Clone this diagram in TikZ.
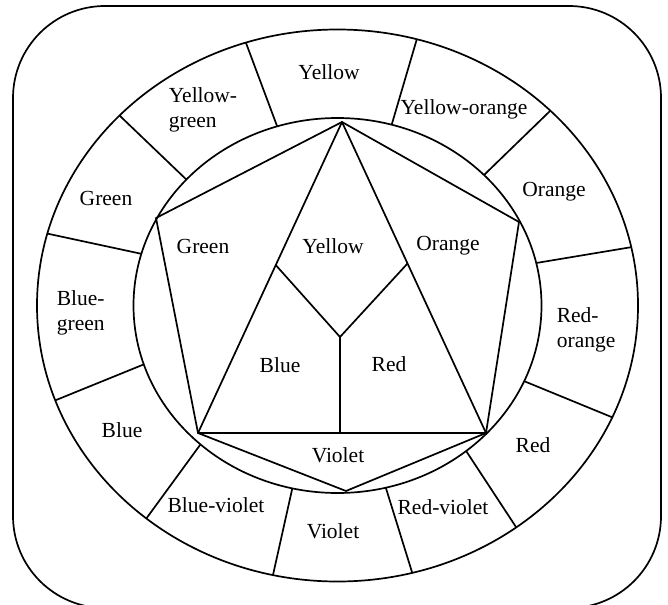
\documentclass[tikz,border=0pt]{standalone}
\usepackage{fontspec}
\setmainfont{Liberation Serif}
\usetikzlibrary{calc}
\begin{document}
\begin{tikzpicture}[x=1pt,y=-1pt,line width=1.7pt,line join=round,
  lbl/.style={font=\fontsize{21.5}{25}\selectfont,inner sep=0pt},
  lbll/.style={lbl,align=left,anchor=west}]
\useasboundingbox (0,0) rectangle (668,604);
\begin{scope}
\clip (0,0) rectangle (668,604);
\draw[rounded corners=92pt] (13,6) rectangle (661,608);
\end{scope}
\coordinate (c) at (337.5,305.5);
\draw (c) ellipse [x radius=300.5, y radius=276];
\draw (c) ellipse [x radius=204, y radius=187.5];
% ring dividers
\foreach \n/\a/\b in {1/-107.2/-107.75, 2/-74.6/-74.7, 3/-44.1/-44.9, 4/-13.1/-12.2,
  5/23.8/23.9, 6/50.9/53.5, 7/76.3/75.6, 8/102.8/102.4, 9/132.2/129.5,
  10/161.7/159.9, 11/196.0/195.1, 12/222.2/223.5}{
  \coordinate (i\n) at ($(c)+(\a:204 and 187.5)$);
  \coordinate (o\n) at ($(c)+(\b:300.5 and 276)$);
  \draw (i\n) -- (o\n);
}
% inner polygon
\coordinate (T) at (342,122);
\coordinate (UL) at (156,218);
\coordinate (UR) at (519,222);
\coordinate (BL) at (198,433);
\coordinate (BR) at (486,433);
\coordinate (B) at (346,491);
\coordinate (M) at (340,337);
\coordinate (L) at ($(T)!0.46!(BL)$);
\coordinate (R) at ($(T)!0.455!(BR)$);
\coordinate (D) at (340,433);
\draw (T) -- (UL) -- (BL) -- (B) -- (BR) -- (UR) -- cycle;
\draw (T) -- (BL) -- (BR) -- cycle;
\draw (L) -- (M) -- (R);
\draw (M) -- (D);
% outer labels
\node[lbl] (oy) at (329,72) {Yellow};
\node[lbll] (oyg) at (168,110) {Yellow-\\green};
\node[lbl] (og) at (106,198) {Green};
\node[lbll] (obg) at (56,313) {Blue-\\green};
\node[lbl] (ob) at (122,430) {Blue};
\node[lbl] (obv) at (216,505) {Blue-violet};
\node[lbl] (ov) at (333,531) {Violet};
\node[lbl] (orv) at (443,507) {Red-violet};
\node[lbl] (or) at (533,445) {Red};
\node[lbll] (oro) at (556,330) {Red-\\orange};
\node[lbl] (oo) at (554,192) {Orange};
\node[lbl] (oyo) at (464,109) {Yellow-orange};
% inner labels
\node[lbl] (ig) at (203,246) {Green};
\node[lbl] (iy) at (333,246) {Yellow};
\node[lbl] (io) at (448,246) {Orange};
\node[lbl] (ib) at (280,365) {Blue};
\node[lbl] (ir) at (389,364) {Red};
\node[lbl] (iv) at (338,455) {Violet};
\end{tikzpicture}
\end{document}
